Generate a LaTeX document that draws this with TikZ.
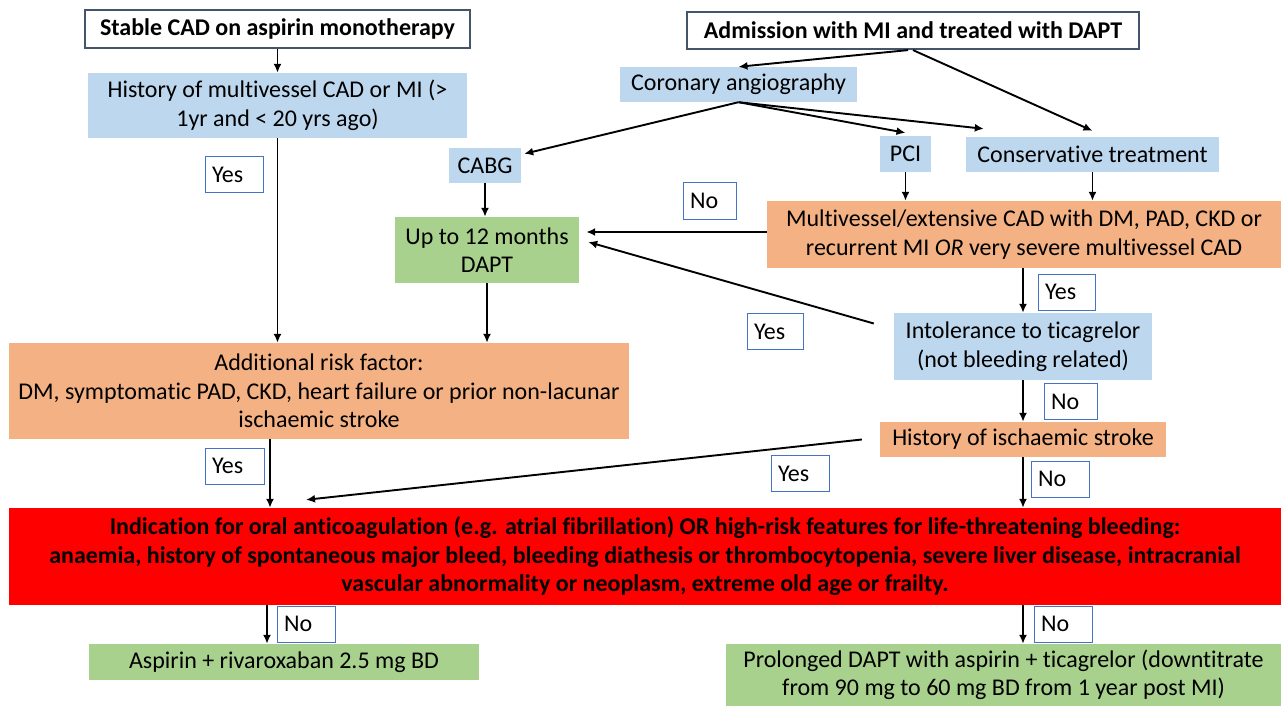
\documentclass[tikz,border=0pt]{standalone}
\usepackage{fontspec}
\setmainfont{Carlito}[Ligatures=NoCommon]
\usetikzlibrary{arrows.meta,calc}
\definecolor{bfill}{HTML}{BDD7EE}
\definecolor{gfill}{HTML}{A9D18E}
\definecolor{ofill}{HTML}{F4B183}
\definecolor{rfill}{HTML}{FF0000}
\definecolor{lblue}{HTML}{4472C4}
\definecolor{slate}{HTML}{44546A}
\begin{document}
\begin{tikzpicture}[x=1pt,y=-1pt,
  box/.style={inner sep=0pt, align=center, font=\fontsize{24}{28.5}\selectfont},
  bluebox/.style={box, fill=bfill},
  greenbox/.style={box, fill=gfill},
  orangebox/.style={box, fill=ofill},
  redbox/.style={box, fill=rfill, font=\bfseries\fontsize{24}{28.5}\selectfont},
  startbox/.style={box, draw=slate, line width=2.2pt, fill=white, font=\bfseries\fontsize{24}{26}\selectfont},
  lbl/.style={draw=lblue, line width=1pt, fill=white, inner xsep=7pt, inner ysep=0pt, align=left, minimum height=36pt, font=\fontsize{24}{28}\selectfont},
  arr/.style={line width=1.9pt, -{Latex[length=9pt,width=8pt]}},
  ]
\useasboundingbox (0,0) rectangle (1283,706);

% left column
\node[startbox, minimum width=385pt, minimum height=38pt] (stable) at (277.5,29) {Stable CAD on aspirin monotherapy};
\node[bluebox, minimum width=379pt, minimum height=65pt] (hist) at (277.5,105.5) {History of multivessel CAD or MI (>\\1yr and < 20 yrs ago)};
\node[lbl, text width=44pt] (yes1) at (234,175) {Yes};
\node[bluebox, minimum width=72pt, minimum height=35pt] (cabg) at (485,165.5) {CABG};
\node[greenbox, minimum width=184pt, minimum height=66pt] (up12) at (487,250) {Up to 12 months\\DAPT};
\node[orangebox, minimum width=620pt, minimum height=96pt] (addl) at (319,391) {Additional risk factor:\\DM, symptomatic PAD, CKD, heart failure or prior non-lacunar\\ischaemic stroke};
\node[lbl, text width=45pt] (yes2) at (234.5,466) {Yes};
\node[redbox, minimum width=1272pt, minimum height=97pt] (red) at (645,556.5) {Indication for oral anticoagulation (e.g. atrial fibrillation) OR high-risk features for life-threatening bleeding:\\anaemia, history of spontaneous major bleed, bleeding diathesis or thrombocytopenia, severe liver disease, intracranial\\vascular abnormality or neoplasm, extreme old age or frailty.};
\node[lbl, text width=44pt] (no1) at (306,624) {No};
\node[greenbox, minimum width=390pt, minimum height=36pt] (asp) at (284,662) {Aspirin + rivaroxaban 2.5 mg BD};

% right column
\node[startbox, minimum width=452pt, minimum height=37pt] (adm) at (913,30.5) {Admission with MI and treated with DAPT};
\node[bluebox, minimum width=237pt, minimum height=35pt] (cor) at (738.5,84.5) {Coronary angiography};
\node[bluebox, minimum width=51pt, minimum height=36pt] (pci) at (905.5,154) {PCI};
\node[bluebox, minimum width=253pt, minimum height=35pt] (cons) at (1092.5,154.5) {Conservative treatment};
\node[lbl, text width=39pt] (no2) at (709.5,201) {No};
\node[orangebox, minimum width=514pt, minimum height=67pt] (multi) at (1024,234.5) {Multivessel/extensive CAD with DM, PAD, CKD or\\recurrent MI \textit{OR} very severe multivessel CAD};
\node[lbl, text width=43pt] (yes3) at (1066.5,292) {Yes};
\node[lbl, text width=42pt] (yes4) at (775,331.5) {Yes};
\node[bluebox, minimum width=258pt, minimum height=67pt] (intol) at (1023,346.5) {Intolerance to ticagrelor\\(not bleeding related)};
\node[lbl, text width=39pt] (no3) at (1070.5,401.5) {No};
\node[orangebox, minimum width=286pt, minimum height=35pt] (stroke) at (1023,439.5) {History of ischaemic stroke};
\node[lbl, text width=44pt] (yes5) at (800,473.5) {Yes};
\node[lbl, text width=44pt] (no4) at (1060,479) {No};
\node[lbl, text width=44pt] (no5) at (1063,624) {No};
\node[greenbox, minimum width=555pt, minimum height=62pt] (prol) at (1003.5,675) {Prolonged DAPT with aspirin + ticagrelor (downtitrate\\from 90 mg to 60 mg BD from 1 year post MI)};

% connectors left
\draw[arr] (stable.south) -- (hist.north);
\draw[arr] (hist.south) -- (hist.south |- addl.north);
\draw[arr] (cabg.south) -- (cabg.south |- up12.north);
\draw[arr] (up12.south) -- (up12.south |- addl.north);
\draw[arr] ([xshift=-49pt]addl.south) -- ([xshift=-49pt]addl.south |- red.north);
\draw[arr] ([xshift=-17pt]asp.north |- red.south) -- ([xshift=-17pt]asp.north);

% connectors right
\draw[arr] ([xshift=-5pt]adm.south) -- (cor.north);
\draw[arr] (adm.south) -- ([yshift=6pt]cons.north);
\draw[arr] (cor.south) -- ([xshift=3pt,yshift=-6pt]cabg.north east);
\draw[arr] (cor.south) -- ([yshift=3pt]pci.north);
\draw[arr] (cor.south) -- ([xshift=18pt,yshift=8pt]cons.north west);
\draw[arr] (pci.south) -- (pci.south |- multi.north);
\draw[arr] (cons.south) -- (cons.south |- multi.north);
\coordinate (tipA) at ([xshift=7pt,yshift=18pt]up12.east);
\draw[arr] (multi.west |- tipA) -- (tipA);
\draw[arr] ([xshift=-20pt,yshift=23pt]intol.west) -- ([xshift=9pt,yshift=8pt]up12.east);
\draw[arr] (intol.north |- multi.south) -- (intol.north);
\draw[arr] (intol.south) -- (intol.south |- stroke.north);
\draw[arr] (stroke.south) -- (stroke.south |- red.north);
\draw[arr] ([xshift=-18pt]stroke.west) -- ([xshift=-339pt,yshift=8pt]red.north);
\draw[arr] (stroke.south |- red.south) -- (stroke.south |- prol.north);
\end{tikzpicture}
\end{document}
